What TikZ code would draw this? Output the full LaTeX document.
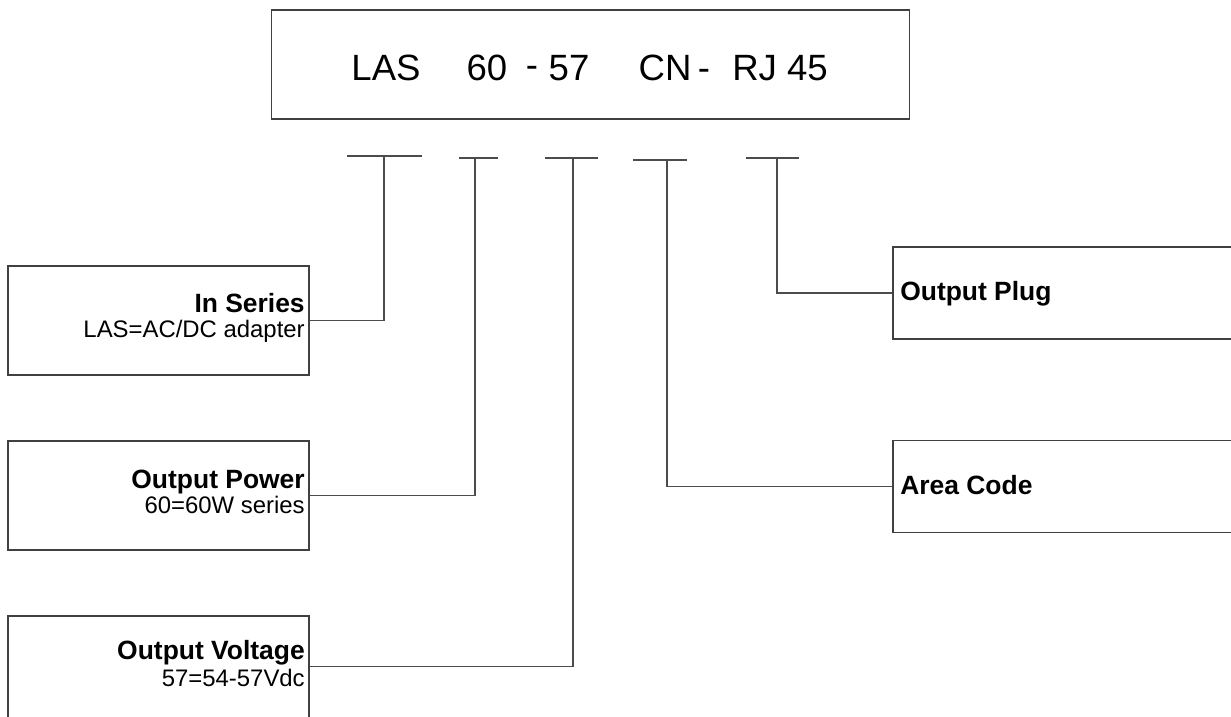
\documentclass[tikz,border=0pt]{standalone}
\usepackage{fontspec}
\setmainfont{Liberation Sans}
\usepackage{tikz}
\usetikzlibrary{positioning}
\tikzset{
  codebox/.style={draw=black!75, line width=0.8pt, minimum width=15.925cm, minimum height=2.725cm},
  infobox/.style={draw=black!75, line width=0.8pt, minimum width=7.525cm, minimum height=2.725cm},
  plugbox/.style={draw=black!75, line width=0.8pt, minimum width=10cm, minimum height=2.3cm},
  codepart/.style={font=\fontsize{26}{30}\selectfont, inner sep=0pt, anchor=base},
  headtext/.style={font=\bfseries\fontsize{18.8}{22}\selectfont, inner sep=0pt},
  subtext/.style={font=\fontsize{17}{20}\selectfont, inner sep=0pt},
  tick/.style={draw=black!70, line width=0.8pt},
  link/.style={draw=black!70, line width=0.8pt}
}

\begin{document}
\begin{tikzpicture}[x=0.025cm, y=-0.025cm]
  \clip (0,0) rectangle (1231,717);
  \fill[white] (0,0) rectangle (1231,717);
  % model code
  \node[codepart] (las) at (386,80) {LAS};
  \node[codebox] (code) at (590.5,64.5) {};
  \node[codepart] (pw) at (487,80) {60};
  \node[codepart] (dash1) at (532,77) {-};
  \node[codepart] (vo) at (569,80) {57};
  \node[codepart] (cn) at (665,80) {CN};
  \node[codepart] (dash2) at (704,80) {-};
  \node[codepart] (rj) at (780,80) {RJ 45};
  % ticks under the code
  \coordinate (t1) at (384,156);
  \coordinate (t2) at (475,158);
  \coordinate (t3) at (573,158);
  \coordinate (t4) at (667,160);
  \coordinate (t5) at (777,158);
  \draw[tick] (347,156) -- (422,156);
  \draw[tick] (459,158) -- (498,158);
  \draw[tick] (545,158) -- (598,158);
  \draw[tick] (633,160) -- (687,160);
  \draw[tick] (746,158) -- (799,158);
  % left boxes
  \node[infobox] (series) at (158.5,320.5) {};
  \node[headtext, anchor=base east] (seriesH) at (305,312) {In Series};
  \node[subtext, anchor=base east] (seriesS) at (305,337) {LAS=AC/DC adapter};
  \node[infobox] (power) at (158.5,495.5) {};
  \node[headtext, anchor=base east] (powerH) at (305,488) {Output Power};
  \node[subtext, anchor=base east] (powerS) at (305,513) {60=60W series};
  \node[infobox] (volt) at (158.5,670.5) {};
  \node[headtext, anchor=base east] (voltH) at (305,659) {Output Voltage};
  \node[subtext, anchor=base east] (voltS) at (305,686) {57=54-57Vdc};
  % right boxes
  \node[plugbox] (plug) at (1093,293) {};
  \node[headtext, anchor=base west] (plugH) at (900,300) {Output Plug};
  \node[plugbox] (area) at (1093,486.5) {};
  \node[headtext, anchor=base west] (areaH) at (900,494) {Area Code};
  % connectors
  \draw[link] (t1) |- (series.east);
  \draw[link] (t2) |- (power.east);
  \draw[link] (t3) |- ([yshift=0.1cm]volt.east);
  \draw[link] (t4) |- (area.west);
  \draw[link] (t5) |- (plug.west);
\end{tikzpicture}
\end{document}
